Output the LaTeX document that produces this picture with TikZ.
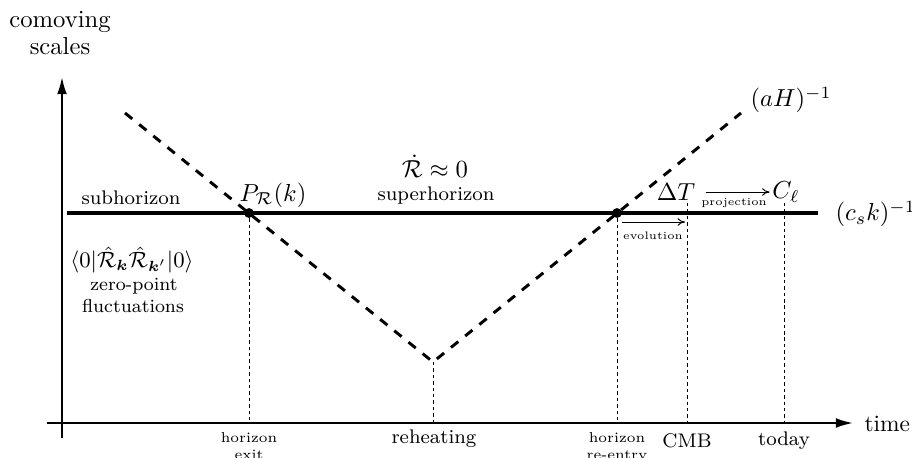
\documentclass[tikz,border=0pt]{standalone}
\usepackage{amsmath}
\usetikzlibrary{arrows.meta}
\begin{document}
\begin{tikzpicture}[x=0.406pt,y=-0.406pt,
  axis/.style={line width=0.8pt,-{Latex[length=7pt,width=4pt]}},
  scaleline/.style={line width=2pt},
  horizon/.style={line width=1.2pt,dash pattern=on 3.8pt off 3.6pt},
  marker/.style={line width=0.35pt,dash pattern=on 1.4pt off 1.2pt},
  smallarrow/.style={line width=0.4pt,-{To[length=3pt,width=3pt]}},
  dot/.style={circle,fill=black,inner sep=0pt,minimum size=4pt},
  lbl/.style={inner sep=0pt,font=\footnotesize},
  tick/.style={inner sep=0pt,font=\fontsize{5.8}{6.2}\selectfont,anchor=base},
  tinylbl/.style={inner sep=0pt,font=\fontsize{4.4}{5}\selectfont},
  mathlbl/.style={inner sep=0pt}]
\useasboundingbox (0,0) rectangle (912,457);

% axes
\coordinate (yb) at (62,438);
\coordinate (yt) at (62,77);
\coordinate (xl) at (47,423);
\coordinate (xr) at (853,423);
\draw[axis] (yb) -- (yt);
\draw[axis] (xl) -- (xr);
\node[inner sep=0pt,align=center,font=\fontsize{10}{11}\selectfont] (ylab) at (60,33) {comoving\\scales};
\node[inner sep=0pt,anchor=west,font=\fontsize{9.5}{11}\selectfont] (tlab) at (864,424) {time};

% sound horizon line
\coordinate (sl) at (67,213);
\coordinate (sr) at (818,213);
\draw[scaleline] (sl) -- (sr);
\node[mathlbl,anchor=west] (cs) at (835,214) {$(c_s k)^{-1}$};

% Hubble radius
\coordinate (h1) at (125,113);
\coordinate (hv) at (433,362);
\coordinate (h2) at (741,113);
\draw[horizon] (h1) -- (hv) -- (h2);
\node[mathlbl,anchor=west] (aH) at (750,100) {$(aH)^{-1}$};

% crossing points
\node[dot] (exit) at (249,213) {};
\node[dot] (reentry) at (617,213) {};

% axis points
\coordinate (aexit) at (249,423);
\coordinate (areh) at (433,423);
\coordinate (areen) at (617,423);
\coordinate (acmb) at (687,423);
\coordinate (atoday) at (784,423);
\coordinate (tcmb) at (687,203);
\coordinate (ttoday) at (784,203);

\draw[marker] (exit) -- (aexit);
\draw[marker] (hv) -- (areh);
\draw[marker] (reentry) -- (areen);
\draw[marker] (tcmb) -- (acmb);
\draw[marker] (ttoday) -- (atoday);

% axis labels
\node[tick] (lexit1) at (249,442) {horizon};
\node[tick] (lexit2) at (249,459) {exit};
\node[lbl] (lreh) at (434,439) {reheating};
\node[tick] (lreen1) at (617,442) {horizon};
\node[tick] (lreen2) at (617,459) {re-entry};
\node[lbl] (lcmb) at (687,441) {CMB};
\node[lbl] (ltoday) at (784,441) {today};

% region labels
\node[lbl] (sub) at (131,198) {subhorizon};
\node[lbl] (sup) at (436,196) {superhorizon};
\node[mathlbl] (rdot) at (435,166) {$\dot{\mathcal{R}}\approx 0$};
\node[mathlbl] (pr) at (273,195) {$P_{\mathcal{R}}(k)$};
\node[mathlbl,font=\small] (vac) at (132,260) {$\langle 0|\hat{\mathcal{R}}_{\boldsymbol{k}}\hat{\mathcal{R}}_{\boldsymbol{k}'}|0\rangle$};
\node[lbl,font=\fontsize{7.6}{9}\selectfont] (zp) at (134,286) {zero-point};
\node[lbl,font=\fontsize{7.6}{9}\selectfont] (fl) at (133,306) {fluctuations};

% evolution and projection
\coordinate (ev1) at (622,222);
\coordinate (ev2) at (685,222);
\draw[smallarrow] (ev1) -- (ev2);
\node[tinylbl] (evl) at (653,236) {evolution};
\node[mathlbl] (dT) at (676,192) {$\Delta T$};
\node[mathlbl] (Cl) at (786,192) {$C_\ell$};
\draw[smallarrow] ([xshift=4pt]dT.east) -- ([xshift=-1pt]Cl.west);
\node[tinylbl] (prl) at (734,203) {projection};
\end{tikzpicture}
\end{document}
